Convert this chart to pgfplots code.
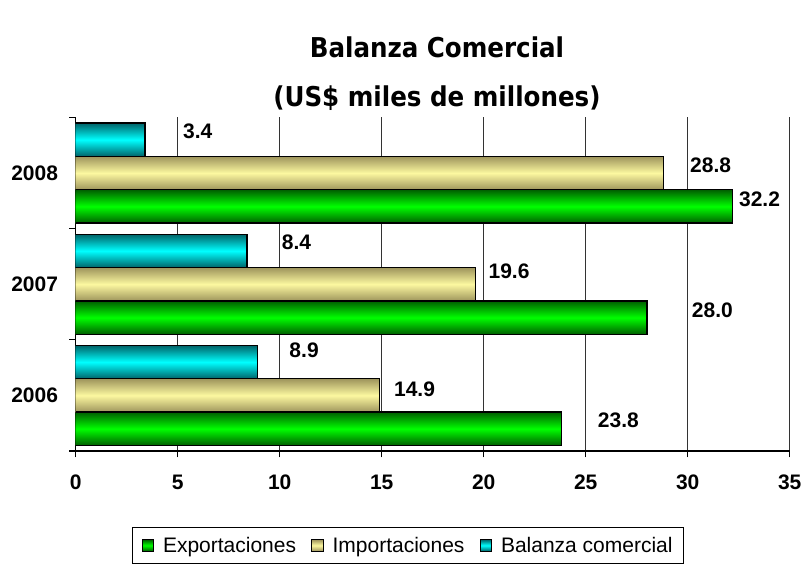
\documentclass[border=0pt]{standalone}
\usepackage{fontspec}
\setmainfont{Liberation Sans}
\newfontfamily\titlefont{DejaVu Sans Condensed}
\usepackage{pgfplots}
\pgfplotsset{compat=1.18}

\definecolor{grnmid}{RGB}{0,255,0}
\definecolor{grnedge}{RGB}{0,95,0}
\definecolor{yelmid}{RGB}{252,248,160}
\definecolor{yeledge}{RGB}{158,148,92}
\definecolor{cynmid}{RGB}{0,255,255}
\definecolor{cynedge}{RGB}{0,100,105}

\newcommand\tickfont{\bfseries\fontsize{21}{25}\selectfont}
\newcommand\legfont{\fontsize{21}{25}\selectfont}
\newcommand\ttlfont{\titlefont\bfseries\fontsize{27.3}{49}\selectfont}

% one bar per \addplot so that each bar gets its own shading
\pgfplotsset{
    barra/.style={xbar, bar width=0.3, draw=black, line width=1.4pt},
    exp/.style={barra, bar shift=-0.3, top color=grnedge, bottom color=grnedge, middle color=grnmid},
    imp/.style={barra, bar shift=0, top color=yeledge, bottom color=yeledge, middle color=yelmid},
    bal/.style={barra, bar shift=0.3, top color=cynedge, bottom color=cynedge, middle color=cynmid},
}

\begin{document}
\begin{tikzpicture}
\useasboundingbox (-75.7pt,-113pt) rectangle (727.3pt,451pt);
\begin{axis}[
    scale only axis, width=714pt, height=333.5pt,
    xmin=0, xmax=35, ymin=-0.5, ymax=2.5,
    axis lines*=left,
    axis line style={-, line width=1.3pt},
    xtick={0,5,...,35},
    ytick={-0.5,0.5,1.5,2.5},
    y tick label as interval,
    yticklabels={2006,2007,2008},
    tick align=outside, major tick length=6.5pt,
    tick style={black, line width=1.2pt},
    xmajorgrids, grid style={black!80, line width=0.9pt},
    /pgf/number format/assume math mode=true,
    ticklabel style={font=\tickfont, inner sep=0pt},
    xticklabel style={anchor=base, yshift=-32.5pt},
    yticklabel style={anchor=east, xshift=-11pt},
    title={Balanza Comercial\\(US\$ miles de millones)},
    title style={at={(0.506,1)}, anchor=base, yshift=5pt,
                 align=center, font=\ttlfont, inner sep=0pt},
    legend columns=3, legend cell align=left,
    legend image code/.code={\draw[#1, line width=1pt] (0pt,-5.7pt) rectangle (11.5pt,5.7pt);},
    legend style={at={(0.0789,-0.2279)}, anchor=north west,
        draw=black, line width=1pt, font=\legfont,
        inner xsep=9pt, inner ysep=7.5pt,
        nodes={inner sep=2pt},
        /tikz/every odd column/.append style={column sep=7pt},
        /tikz/every even column/.append style={column sep=13pt}},
]
% 2006
\addplot[exp] coordinates {(23.8,0)};
\addplot[imp] coordinates {(14.9,0)};
\addplot[bal] coordinates {(8.9,0)};
% 2007
\addplot[exp, forget plot] coordinates {(28.0,1)};
\addplot[imp, forget plot] coordinates {(19.6,1)};
\addplot[bal, forget plot] coordinates {(8.4,1)};
% 2008
\addplot[exp, forget plot] coordinates {(32.2,2)};
\addplot[imp, forget plot] coordinates {(28.8,2)};
\addplot[bal, forget plot] coordinates {(3.4,2)};
% valores (posiciones de las etiquetas como en el original)
\addplot[draw=none, forget plot, point meta=explicit,
    nodes near coords={\pgfmathprintnumber[fixed,fixed zerofill,precision=1]{\pgfplotspointmeta}},
    nodes near coords align=horizontal,
    every node near coord/.append style={anchor=west, inner sep=0pt, font=\tickfont}]
    table[meta=v] {
    x     y      v
    5.26  2.374  3.4
    30.11 2.073  28.8
    32.51 1.767  32.2
    10.10 1.374  8.4
    20.23 1.119  19.6
    30.20 0.768  28.0
    10.47 0.404  8.9
    15.60 0.058  14.9
    25.59 -0.221 23.8
    };
\legend{Exportaciones, Importaciones, Balanza comercial}
\end{axis}
\end{tikzpicture}
\end{document}
